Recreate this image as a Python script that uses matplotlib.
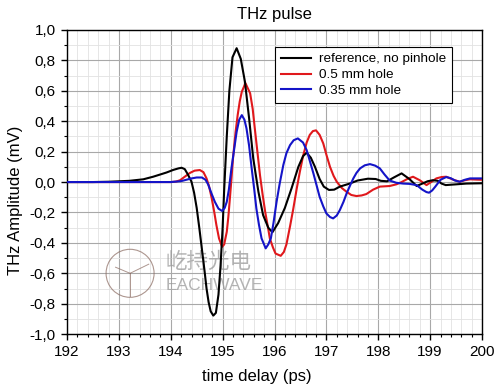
import numpy as np
import matplotlib
matplotlib.use("Agg")
import matplotlib.pyplot as plt
from matplotlib.ticker import MultipleLocator, FuncFormatter
from matplotlib.patches import Ellipse

plt.rcParams['font.family'] = ['Liberation Sans', 'DejaVu Sans']

# time delay (ps) and amplitude (mV)
t_ref = [192.0, 192.5, 192.8, 193.0, 193.2, 193.47, 193.66, 193.8, 193.92, 194.05,
         194.15, 194.21, 194.27, 194.33, 194.40, 194.45, 194.50, 194.55, 194.60, 194.65,
         194.69, 194.73, 194.77, 194.82, 194.87, 194.92, 194.96, 195.00, 195.03, 195.08,
         195.13, 195.19, 195.27, 195.35, 195.43, 195.51, 195.59, 195.69, 195.78, 195.88,
         195.96, 196.07, 196.20, 196.33, 196.46, 196.55, 196.62, 196.70, 196.78, 196.87,
         196.95, 197.05, 197.15, 197.26, 197.45, 197.60, 197.80, 197.95, 198.05, 198.17,
         198.30, 198.45, 198.60, 198.74, 198.85, 198.95, 199.05, 199.15, 199.22, 199.30,
         199.50, 199.70, 200.0]
a_ref = [0.0, 0.0, 0.002, 0.005, 0.008, 0.018, 0.035, 0.05, 0.063, 0.08,
         0.09, 0.094, 0.085, 0.05, 0.002, -0.07, -0.17, -0.30, -0.44, -0.58,
         -0.70, -0.79, -0.85, -0.878, -0.86, -0.74, -0.55, -0.30, -0.05, 0.30,
         0.60, 0.82, 0.88, 0.81, 0.66, 0.42, 0.156, -0.064, -0.217, -0.30,
         -0.33, -0.27, -0.17, -0.04, 0.10, 0.17, 0.193, 0.16, 0.10, 0.02,
         -0.03, -0.052, -0.05, -0.03, -0.01, 0.01, 0.022, 0.02, 0.008, 0.005,
         0.03, 0.057, 0.02, -0.026, -0.01, 0.005, 0.012, 0.008, -0.01, -0.02,
         -0.015, -0.01, -0.008]

t_05 = [192.0, 194.0, 194.1, 194.18, 194.27, 194.37, 194.46, 194.56, 194.63, 194.69,
        194.74, 194.79, 194.84, 194.88, 194.93, 194.99, 195.03, 195.08, 195.11, 195.14,
        195.17, 195.20, 195.25, 195.29, 195.33, 195.37, 195.44, 195.53, 195.58, 195.62,
        195.67, 195.72, 195.77, 195.82, 195.87, 195.91, 195.97, 196.02, 196.12, 196.18,
        196.23, 196.30, 196.36, 196.43, 196.49, 196.55, 196.62, 196.68, 196.74, 196.80,
        196.87, 196.94, 197.00, 197.07, 197.14, 197.20, 197.30, 197.39, 197.48, 197.58,
        197.68, 197.77, 197.90, 198.03, 198.22, 198.35, 198.45, 198.56, 198.67, 198.80,
        198.93, 199.02, 199.12, 199.22, 199.31, 199.45, 199.57, 199.67, 199.77, 199.90,
        200.0]
a_05 = [0.0, 0.0, 0.003, 0.012, 0.035, 0.06, 0.075, 0.079, 0.065, 0.024,
        -0.03, -0.107, -0.20, -0.283, -0.37, -0.426, -0.41, -0.327, -0.23, -0.107,
        0.02, 0.156, 0.33, 0.44, 0.53, 0.594, 0.65, 0.584, 0.48, 0.353,
        0.20, 0.046, -0.08, -0.195, -0.29, -0.37, -0.43, -0.47, -0.485, -0.46,
        -0.41, -0.29, -0.18, -0.04, 0.07, 0.17, 0.26, 0.31, 0.335, 0.34,
        0.31, 0.254, 0.18, 0.10, 0.04, 0.002, -0.04, -0.064, -0.085, -0.092,
        -0.088, -0.079, -0.05, -0.03, -0.026, -0.015, 0.0, 0.02, 0.035, 0.012,
        -0.02, 0.0, 0.024, 0.033, 0.035, 0.015, 0.002, 0.012, 0.018, 0.016,
        0.015]

t_035 = [192.0, 194.0, 194.2, 194.3, 194.4, 194.5, 194.6, 194.67, 194.72, 194.78,
         194.85, 194.92, 194.99, 195.04, 195.08, 195.12, 195.17, 195.22, 195.27, 195.32,
         195.37, 195.42, 195.46, 195.51, 195.56, 195.61, 195.65, 195.70, 195.75, 195.83,
         195.88, 195.93, 195.98, 196.04, 196.10, 196.17, 196.23, 196.30, 196.37, 196.45,
         196.55, 196.62, 196.68, 196.75, 196.81, 196.87, 196.94, 197.00, 197.07, 197.13,
         197.20, 197.26, 197.33, 197.39, 197.46, 197.52, 197.58, 197.65, 197.74, 197.84,
         197.94, 198.03, 198.12, 198.22, 198.35, 198.48, 198.60, 198.74, 198.85, 198.93,
         198.98, 199.04, 199.10, 199.20, 199.31, 199.40, 199.48, 199.57, 199.67, 199.77,
         199.90, 200.0]
a_035 = [0.0, 0.0, 0.006, 0.015, 0.024, 0.03, 0.03, 0.015, -0.015, -0.07,
         -0.13, -0.175, -0.19, -0.17, -0.13, -0.05, 0.09, 0.21, 0.33, 0.41,
         0.44, 0.41, 0.353, 0.24, 0.09, -0.05, -0.173, -0.28, -0.37, -0.436,
         -0.41, -0.37, -0.27, -0.13, -0.01, 0.112, 0.19, 0.243, 0.275, 0.287,
         0.26, 0.21, 0.14, 0.057, -0.02, -0.097, -0.16, -0.206, -0.23, -0.239,
         -0.22, -0.184, -0.13, -0.075, -0.02, 0.024, 0.06, 0.09, 0.11, 0.118,
         0.108, 0.09, 0.05, 0.01, -0.005, -0.01, -0.012, -0.02, -0.05, -0.066,
         -0.07, -0.055, -0.03, 0.015, 0.033, 0.025, 0.01, 0.002, 0.015, 0.024,
         0.024, 0.024]

labels = ['reference, no pinhole', '0.5 mm hole', '0.35 mm hole']
colors = ['#000000', '#e0181c', '#1414c8']

fig = plt.figure(figsize=(5.0, 3.89), dpi=100)
ax = fig.add_axes([0.134, 0.141, 0.830, 0.782])

ax.plot(t_ref, a_ref, color=colors[0], lw=1.5, label=labels[0], zorder=5)
ax.plot(t_05, a_05, color=colors[1], lw=1.5, label=labels[1], zorder=4)
ax.plot(t_035, a_035, color=colors[2], lw=1.5, label=labels[2], zorder=6)

ax.set_xlim(192, 200)
ax.set_ylim(-1.0, 1.0)
ax.xaxis.set_major_locator(MultipleLocator(1))
ax.xaxis.set_minor_locator(MultipleLocator(0.2))
ax.yaxis.set_major_locator(MultipleLocator(0.2))
ax.yaxis.set_minor_locator(MultipleLocator(0.1))
ax.yaxis.set_major_formatter(FuncFormatter(lambda v, p: f"{v:.1f}".replace('.', ',')))
ax.grid(which='major', color='#a8a8a8', lw=0.8)
ax.grid(which='minor', color='#e2e2e2', lw=0.6)
ax.set_axisbelow(True)
ax.tick_params(which='major', direction='out', length=4.5, width=1, labelsize=11)
ax.tick_params(which='minor', direction='out', length=2.5, width=0.8)
for s in ax.spines.values():
    s.set_linewidth(1.0)

ax.set_title("THz pulse", fontsize=12, pad=8)
ax.set_xlabel("time delay (ps)", fontsize=12, labelpad=6)
ax.xaxis.set_label_coords(0.458, -0.115)
ax.set_ylabel("THz Amplitude (mV)", fontsize=12)
ax.yaxis.set_label_coords(-0.105, 0.44)

leg = ax.legend(loc='upper right', bbox_to_anchor=(0.928, 0.944), borderaxespad=0,
                fontsize=9.7, fancybox=False, framealpha=1, edgecolor='black',
                borderpad=0.45, handlelength=2.2, labelspacing=0.25, handletextpad=0.6)
leg.get_frame().set_linewidth(0.8)

# watermark
ax.add_patch(Ellipse((0.152, 0.20), 48 / 415, 48 / 304, transform=ax.transAxes,
                     fill=False, ec='#8a6a60', lw=0.8, alpha=0.7, zorder=3))
for dx0, dy0, dx1, dy1 in [(-0.035, 0.02, 0.0, 0.0), (0.0, 0.0, 0.0, -0.075),
                           (0.0, 0.0, 0.045, 0.03)]:
    ax.plot([0.152 + dx0, 0.152 + dx1], [0.20 + dy0, 0.20 + dy1], transform=ax.transAxes,
            color='#8a6a60', lw=0.7, alpha=0.7, zorder=3)
ax.text(0.237, 0.237, "屹持光电", transform=ax.transAxes, fontsize=15.5, color='#9a9a9a',
        alpha=0.75, family=['Noto Sans CJK SC', 'DejaVu Sans'], va='center', zorder=3)
ax.text(0.237, 0.161, "EACHWAVE", transform=ax.transAxes, fontsize=12.5, color='#9a9a9a',
        alpha=0.75, va='center', zorder=3)

fig.savefig("out.png", dpi=100)
